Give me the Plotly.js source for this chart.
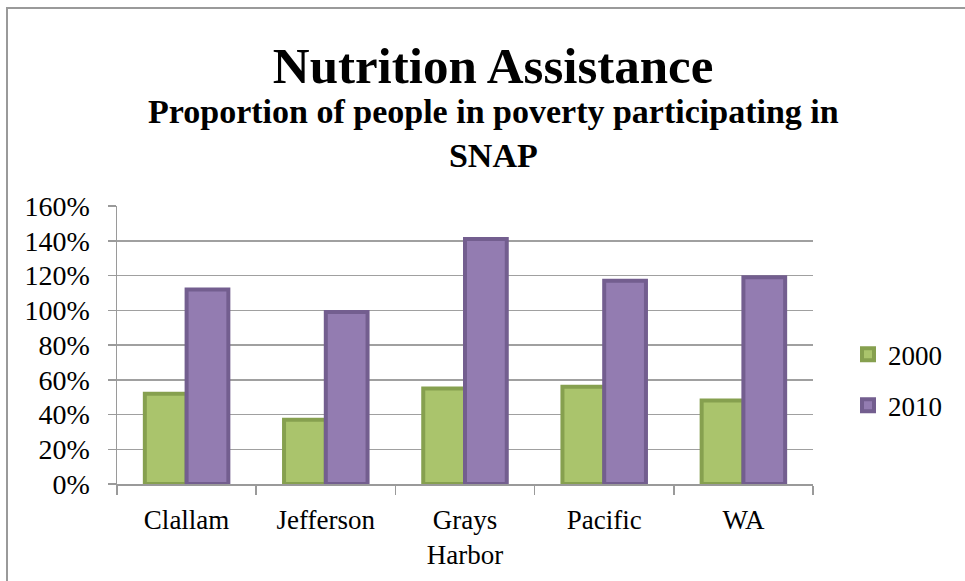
<!DOCTYPE html>
<html>
<head>
<meta charset="utf-8">
<script src="https://cdn.plot.ly/plotly-3.0.1.min.js"></script>
<style>
  html, body { margin: 0; padding: 0; background: #fff; }
  #wrap { position: relative; width: 965px; height: 581px; overflow: hidden; }
  #chart { width: 965px; height: 581px; }
  #frame { position: absolute; left: 6px; top: 7px; width: 980px; height: 600px;
           border-left: 2px solid #9a9a9a; border-top: 2px solid #9a9a9a; pointer-events: none; }
</style>
</head>
<body>
<div id="wrap">
  <div id="chart"></div>
  <div id="frame"></div>
</div>
<script>
// ---- data ----
const categories = ['Clallam', 'Jefferson', 'Grays Harbor', 'Pacific', 'WA'];
const tickLabels = ['Clallam', 'Jefferson', 'Grays<br>Harbor', 'Pacific', 'WA'];
const series2000 = [0.52, 0.37, 0.55, 0.56, 0.48];
const series2010 = [1.12, 0.99, 1.41, 1.17, 1.19];
const yTickVals = [0, 0.2, 0.4, 0.6, 0.8, 1.0, 1.2, 1.4, 1.6];
const yTickText = ['0%', '20%', '40%', '60%', '80%', '100%', '120%', '140%', '160%'];

const FONT = 'Liberation Serif, Times New Roman, serif';

const traces = [
  {
    type: 'bar', name: '2000', x: categories, y: series2000, legendgroup: 'a',
    marker: { color: '#aac46c', line: { color: '#86a04f', width: 4 } },
    hoverinfo: 'skip'
  },
  {
    type: 'bar', name: '2010', x: categories, y: series2010, legendgroup: 'b',
    marker: { color: '#937cb1', line: { color: '#735e8f', width: 4 } },
    hoverinfo: 'skip'
  }
];

const layout = {
  width: 965, height: 581,
  paper_bgcolor: '#ffffff', plot_bgcolor: '#ffffff',
  font: { family: FONT, size: 26, color: '#000' },
  margin: { l: 117, r: 152, t: 206, b: 97, pad: 0 },
  barmode: 'group', bargap: 0.40, bargroupgap: 0,
  title: {
    text: '<b>Nutrition Assistance</b>',
    font: { family: FONT, size: 51, color: '#000' },
    xref: 'container', x: 0.511, xanchor: 'center',
    yref: 'container', y: 1 - 65 / 581, yanchor: 'middle'
  },
  annotations: [{
    text: '<b>Proportion of people in poverty participating in<br>SNAP</b>',
    xref: 'paper', yref: 'paper', x: (493 - 117) / 696, y: (484 - 91) / 278.3,
    xanchor: 'center', yanchor: 'top', align: 'center', showarrow: false,
    font: { family: FONT, size: 34, color: '#000' }
  }],
  xaxis: {
    type: 'category',
    tickmode: 'array', tickvals: categories, ticktext: tickLabels,
    tickson: 'boundaries', ticks: 'outside', ticklen: 9, tickcolor: '#9a9a9a', tickwidth: 1.5,
    ticklabelstandoff: 11,
    showline: true, linecolor: '#9a9a9a', linewidth: 1.5,
    showgrid: false, zeroline: false,
    tickfont: { family: FONT, size: 27, color: '#000' }
  },
  yaxis: {
    range: [0, 1.6], tickmode: 'array', tickvals: yTickVals, ticktext: yTickText,
    ticks: 'outside', ticklen: 8, tickcolor: '#9a9a9a', tickwidth: 1.5,
    ticklabelstandoff: 12,
    showline: true, linecolor: '#9a9a9a', linewidth: 1.5,
    showgrid: true, gridcolor: '#a0a0a0', gridwidth: 1.5, zeroline: false,
    tickfont: { family: FONT, size: 28, color: '#000' }
  },
  showlegend: true,
  legend: {
    xref: 'paper', yref: 'paper', x: (848 - 117) / 696, xanchor: 'left',
    y: (484 - 330) / 278.3, yanchor: 'top',
    traceorder: 'grouped', tracegroupgap: 13,
    font: { family: FONT, size: 27, color: '#000' },
    bgcolor: 'rgba(0,0,0,0)', borderwidth: 0
  }
};

Plotly.newPlot('chart', traces, layout, { displayModeBar: false, staticPlot: true });
</script>
</body>
</html>
